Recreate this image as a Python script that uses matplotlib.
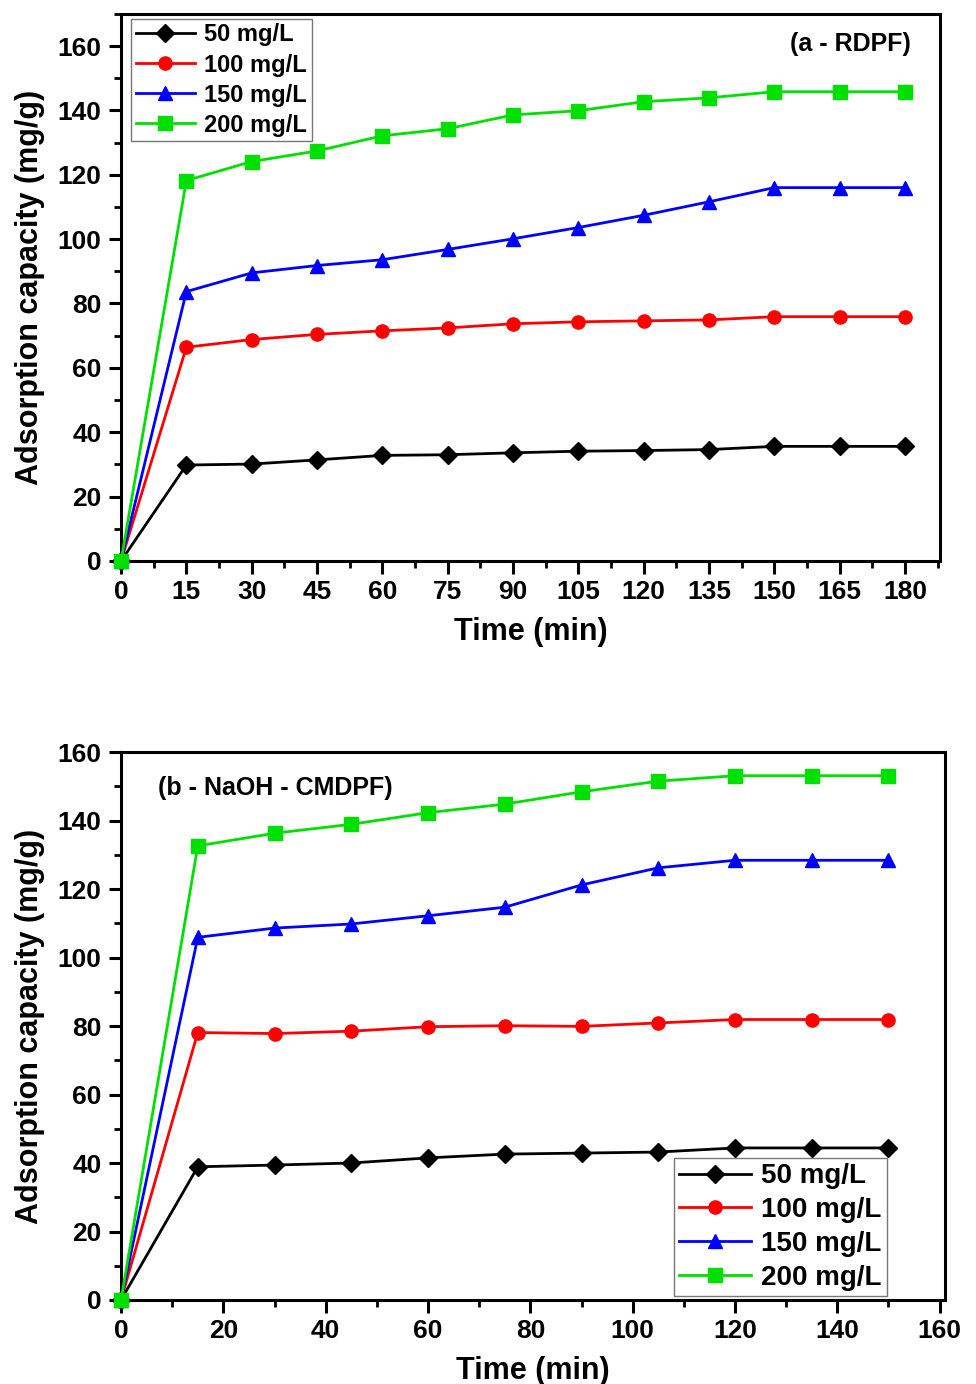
import numpy as np
import matplotlib.pyplot as plt
from matplotlib.ticker import MultipleLocator

plt.rcParams['font.family'] = ['Liberation Sans', 'DejaVu Sans']
plt.rcParams['font.weight'] = 'bold'

labels = ["50 mg/L", "100 mg/L", "150 mg/L", "200 mg/L"]
colors = ["black", "red", "blue", "#00e000"]
markers = ["D", "o", "^", "s"]

# panel a - RDPF
time_a = [0, 15, 30, 45, 60, 75, 90, 105, 120, 135, 150, 165, 180]
q50_a = [0, 29.8, 30.1, 31.4, 32.8, 33.0, 33.6, 34.1, 34.3, 34.6, 35.6, 35.6, 35.6]
q100_a = [0, 66.4, 68.8, 70.4, 71.5, 72.4, 73.7, 74.3, 74.6, 74.9, 75.9, 75.9, 75.9]
q150_a = [0, 83.7, 89.5, 91.8, 93.6, 96.8, 100.1, 103.6, 107.4, 111.6, 116.0, 116.0, 116.0]
q200_a = [0, 118.2, 124.1, 127.4, 132.1, 134.3, 138.6, 139.9, 142.7, 143.9, 145.8, 145.8, 145.8]

# panel b - NaOH - CMDPF
time_b = [0, 15, 30, 45, 60, 75, 90, 105, 120, 135, 150]
q50_b = [0, 38.9, 39.4, 40.0, 41.5, 42.6, 42.9, 43.2, 44.4, 44.4, 44.4]
q100_b = [0, 78.1, 77.8, 78.5, 79.8, 80.1, 79.9, 80.9, 81.9, 81.9, 81.9]
q150_b = [0, 105.9, 108.6, 109.8, 112.2, 114.7, 121.2, 126.2, 128.4, 128.4, 128.4]
q200_b = [0, 132.6, 136.3, 138.9, 142.3, 144.8, 148.4, 151.5, 153.1, 153.1, 153.1]

fig = plt.figure(figsize=(9.76, 13.84), dpi=100)
ax1 = fig.add_axes([0.124, 0.5947, 0.839, 0.3953])
ax2 = fig.add_axes([0.124, 0.0607, 0.844, 0.3959])


def style(ax):
    for s in ax.spines.values():
        s.set_linewidth(2.2)
    ax.tick_params(which='major', direction='out', length=9, width=2.2, labelsize=19,
                   top=False, right=False, pad=5)
    ax.tick_params(which='minor', direction='out', length=5, width=2,
                   top=False, right=False)
    for t in ax.get_xticklabels() + ax.get_yticklabels():
        t.set_fontweight('bold')
    ax.set_ylabel("Adsorption capacity (mg/g)", fontsize=22, fontweight='bold', labelpad=9)
    ax.set_xlabel("Time (min)", fontsize=22, fontweight='bold', labelpad=9)


series_a = [q50_a, q100_a, q150_a, q200_a]
for y, lab, c, m in zip(series_a, labels, colors, markers):
    ax1.plot(time_a, y, color=c, marker=m, markersize=9.5,
             linewidth=2, label=lab, clip_on=False, zorder=3)
ax1.set_xlim(0, 188)
ax1.set_ylim(0, 170)
ax1.set_xticks(time_a)
ax1.xaxis.set_minor_locator(MultipleLocator(7.5))
ax1.set_yticks(np.arange(0, 161, 20))
ax1.yaxis.set_minor_locator(MultipleLocator(10))
style(ax1)
ax1.text(0.965, 0.944, "(a - RDPF)", transform=ax1.transAxes, ha='right', va='center',
         fontsize=18, fontweight='bold')
leg1 = ax1.legend(loc='upper left', bbox_to_anchor=(0.012, 0.991), fontsize=17,
                  frameon=True, fancybox=False, edgecolor='#555555', borderpad=0.2,
                  handlelength=2.5, labelspacing=0.3, handletextpad=0.4,
                  borderaxespad=0)
leg1.get_frame().set_linewidth(1)
for t in leg1.get_texts():
    t.set_fontweight('bold')

series_b = [q50_b, q100_b, q150_b, q200_b]
for y, lab, c, m in zip(series_b, labels, colors, markers):
    ax2.plot(time_b, y, color=c, marker=m, markersize=9.5,
             linewidth=2, label=lab, clip_on=False, zorder=3)
ax2.set_xlim(0, 161)
ax2.set_ylim(0, 160)
ax2.set_xticks(np.arange(0, 161, 20))
ax2.xaxis.set_minor_locator(MultipleLocator(10))
ax2.set_yticks(np.arange(0, 161, 20))
ax2.yaxis.set_minor_locator(MultipleLocator(10))
style(ax2)
ax2.text(0.045, 0.935, "(b - NaOH - CMDPF)", transform=ax2.transAxes, ha='left', va='center',
         fontsize=18, fontweight='bold')
leg2 = ax2.legend(loc='lower right', bbox_to_anchor=(0.93, 0.007), fontsize=20,
                  frameon=True, fancybox=False, edgecolor='#555555', borderpad=0.2,
                  handlelength=2.6, labelspacing=0.28, handletextpad=0.35,
                  borderaxespad=0)
leg2.get_frame().set_linewidth(1)
for t in leg2.get_texts():
    t.set_fontweight('bold')

fig.savefig("out.png", dpi=100)
